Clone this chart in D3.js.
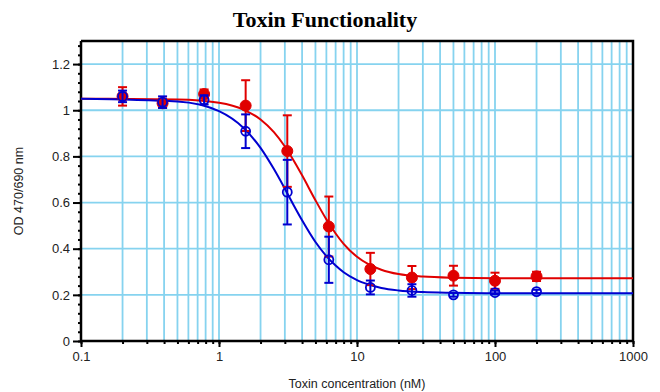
<!DOCTYPE html>
<html>
<head>
<meta charset="utf-8">
<title>Toxin Functionality</title>
<script src="https://d3js.org/d3.v7.min.js"></script>
<style>
  body { margin: 0; background: #fff; }
  .tick text { font: 13px "Liberation Sans", Arial, sans-serif; fill: #222; }
  .titulo { font: bold 22px "Liberation Serif", serif; fill: #000; }
  .rotulo { font: 12.5px "Liberation Sans", Arial, sans-serif; fill: #222; }
</style>
</head>
<body>
<div id="grafico"></div>
<script>
"use strict"

// concentracoes (nM) medidas
var conc = [0.2, 0.39, 0.78, 1.56, 3.125, 6.25, 12.5, 25, 50, 100, 200];
// serie vermelha (pontos cheios)
var vermelho = [1.06, 1.03, 1.07, 1.02, 0.823, 0.496, 0.312, 0.275, 0.283, 0.261, 0.280];
var vermelhoErro = [0.04, 0.02, 0.02, 0.11, 0.155, 0.13, 0.07, 0.05, 0.043, 0.035, 0.02];
// serie azul (pontos vazados)
var azul = [1.06, 1.035, 1.045, 0.909, 0.645, 0.352, 0.232, 0.219, 0.200, 0.210, 0.214];
var azulErro = [0.025, 0.025, 0.02, 0.073, 0.14, 0.10, 0.03, 0.027, 0.008, 0.008, 0.008];

// curvas ajustadas
var curvaX = [0.1, 0.5, 1, 1.5, 2, 2.5, 3, 3.5, 4, 5, 6, 7, 8, 10, 12, 15, 20, 30, 50, 100, 1000];
var curvaVermelha = [1.05, 1.047, 1.032, 1.003, 0.960, 0.905, 0.843, 0.779, 0.718, 0.610, 0.527, 0.466, 0.421, 0.365, 0.334, 0.309, 0.290, 0.279, 0.274, 0.272, 0.272];
var curvaAzul = [1.05, 1.038, 0.996, 0.924, 0.837, 0.745, 0.660, 0.585, 0.523, 0.429, 0.368, 0.327, 0.298, 0.264, 0.246, 0.230, 0.219, 0.212, 0.209, 0.207, 0.207];

var yTicks = [0, 0.2, 0.4, 0.6, 0.8, 1, 1.2];
var xTicks = [0.1, 1, 10, 100, 1000];

var larguraSVG = 660, alturaSVG = 392;
var margin = {top: 41, right: 27, bottom: 51, left: 81};
var larguraVis = larguraSVG - margin.left - margin.right,
    alturaVis = alturaSVG - margin.top - margin.bottom;

var corVermelho = "#e00000", corAzul = "#0000d0", corGrade = "#86d3ef";

var svg = d3.select('#grafico').append('svg')
  .attr('width', larguraSVG)
  .attr('height', alturaSVG);

var g = svg.append('g').attr('transform', 'translate(' + margin.left + ',' + margin.top + ')');

var x = d3.scaleLog().domain([0.1, 1000]).range([0, larguraVis]);
var y = d3.scaleLinear().domain([0, 1.3]).range([alturaVis, 0]);

// todas as posicoes logaritmicas menores (grade vertical)
var xMenores = [];
[0.1, 1, 10, 100].forEach(function(d) {
  for (var k = 1; k <= 9; k++) xMenores.push(d * k);
});
xMenores.push(1000);

// grade
g.append('g').selectAll('line').data(xMenores.filter(function(d) { return d > 0.1 && d < 1000; }))
  .enter().append('line')
  .attr('x1', function(d) { return x(d); }).attr('x2', function(d) { return x(d); })
  .attr('y1', 0).attr('y2', alturaVis)
  .attr('stroke', corGrade).attr('stroke-width', 1.8);

g.append('g').selectAll('line').data(yTicks.filter(function(d) { return d > 0; }))
  .enter().append('line')
  .attr('x1', 0).attr('x2', larguraVis)
  .attr('y1', function(d) { return y(d); }).attr('y2', function(d) { return y(d); })
  .attr('stroke', corGrade).attr('stroke-width', 1.8);

// moldura superior e direita
g.append('path')
  .attr('d', 'M0,0H' + larguraVis + 'V' + alturaVis)
  .attr('fill', 'none').attr('stroke', '#000').attr('stroke-width', 2.5);

// eixo y
g.append('g')
  .call(d3.axisLeft(y).tickValues(d3.range(0, 33).map(function(i) { return i * 0.04; })).tickSize(3).tickFormat(''))
  .call(function(s) { s.select('.domain').remove(); s.selectAll('line').attr('stroke-width', 2); });
g.append('g')
  .call(d3.axisLeft(y).tickValues(yTicks).tickSize(8).tickPadding(3).tickFormat(d3.format('')))
  .call(function(s) {
    s.select('.domain').attr('stroke-width', 2.5).attr('d', 'M0,0V' + alturaVis);
    s.selectAll('line').attr('stroke-width', 2);
  });

// eixo x
g.append('g').attr('transform', 'translate(0,' + alturaVis + ')')
  .call(d3.axisBottom(x).tickValues(xMenores).tickSize(3).tickFormat(''))
  .call(function(s) { s.select('.domain').remove(); s.selectAll('line').attr('stroke-width', 2); });
g.append('g').attr('transform', 'translate(0,' + alturaVis + ')')
  .call(d3.axisBottom(x).tickValues(xTicks).tickSize(6).tickPadding(5).tickFormat(d3.format('')))
  .call(function(s) {
    s.select('.domain').attr('stroke-width', 2.5).attr('d', 'M0,0H' + larguraVis);
    s.selectAll('line').attr('stroke-width', 2);
  });

// curvas
var linha = d3.line().x(function(d) { return x(d[0]); }).y(function(d) { return y(d[1]); }).curve(d3.curveMonotoneX);
g.append('path').datum(d3.zip(curvaX, curvaVermelha)).attr('d', linha)
  .attr('fill', 'none').attr('stroke', corVermelho).attr('stroke-width', 2);
g.append('path').datum(d3.zip(curvaX, curvaAzul)).attr('d', linha)
  .attr('fill', 'none').attr('stroke', corAzul).attr('stroke-width', 2);

function desenhaSerie(valores, erros, cor, cheio) {
  var dados = conc.map(function(c, i) { return {c: c, v: valores[i], e: erros[i]}; });
  var s = g.append('g');
  var barras = s.selectAll('g.barra').data(dados).enter().append('g').attr('class', 'barra');
  barras.append('line')
    .attr('x1', function(d) { return x(d.c); }).attr('x2', function(d) { return x(d.c); })
    .attr('y1', function(d) { return y(d.v + d.e); }).attr('y2', function(d) { return y(d.v - d.e); })
    .attr('stroke', cor).attr('stroke-width', 2);
  [1, -1].forEach(function(sinal) {
    barras.append('line')
      .attr('x1', function(d) { return x(d.c) - 4.5; }).attr('x2', function(d) { return x(d.c) + 4.5; })
      .attr('y1', function(d) { return y(d.v + sinal * d.e); }).attr('y2', function(d) { return y(d.v + sinal * d.e); })
      .attr('stroke', cor).attr('stroke-width', 2);
  });
  s.selectAll('circle').data(dados).enter().append('circle')
    .attr('cx', function(d) { return x(d.c); })
    .attr('cy', function(d) { return y(d.v); })
    .attr('r', cheio ? 5.5 : 4.5)
    .attr('fill', cheio ? cor : 'none')
    .attr('stroke', cor).attr('stroke-width', cheio ? 1 : 1.8);
}

desenhaSerie(vermelho, vermelhoErro, corVermelho, true);
desenhaSerie(azul, azulErro, corAzul, false);

// textos
svg.append('text').attr('class', 'titulo')
  .attr('x', 325).attr('y', 27).attr('text-anchor', 'middle')
  .text('Toxin Functionality');

svg.append('text').attr('class', 'rotulo')
  .attr('x', margin.left + larguraVis / 2).attr('y', 388).attr('text-anchor', 'middle')
  .text('Toxin concentration (nM)');

svg.append('text').attr('class', 'rotulo')
  .attr('transform', 'translate(23,' + (margin.top + alturaVis / 2) + ') rotate(-90)')
  .attr('text-anchor', 'middle')
  .text('OD 470/690 nm');
</script>
</body>
</html>
